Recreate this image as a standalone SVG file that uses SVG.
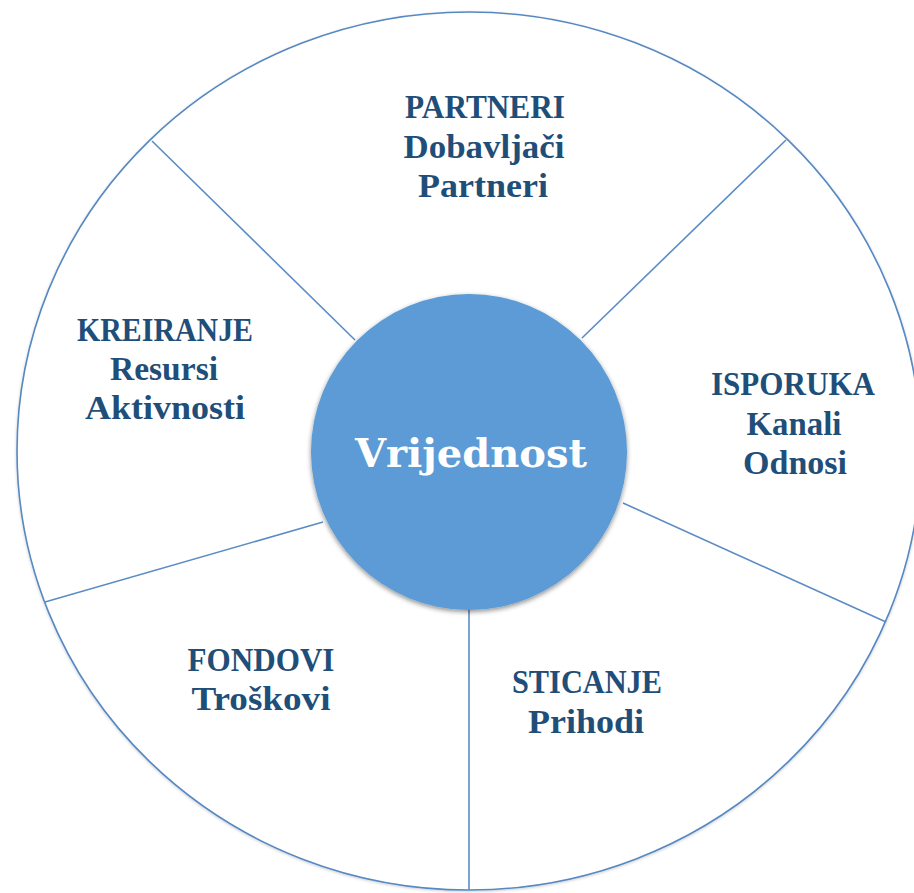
<svg xmlns="http://www.w3.org/2000/svg" width="914" height="893" viewBox="0 0 914 893">
  <style>
    .rim { fill: #ffffff; stroke: #5688c2; stroke-width: 1.6; }
    .spoke { stroke: #5b8cc4; stroke-width: 1.6; fill: none; }
    .lbl { font-family: "Liberation Serif", "DejaVu Serif", serif; font-weight: bold; font-size: 33px; fill: #1f4e79; text-anchor: middle; }
    .hub { fill: #5b9bd5; }
    .hubtxt { font-family: "DejaVu Serif", "Liberation Serif", serif; font-weight: bold; font-size: 40px; fill: #ffffff; text-anchor: middle; }
  </style>
  <defs>
    <filter id="soft" x="-10%" y="-10%" width="120%" height="120%">
      <feGaussianBlur in="SourceAlpha" stdDeviation="2.5"/>
      <feOffset dx="0" dy="1.5"/>
      <feComponentTransfer><feFuncA type="linear" slope="0.45"/></feComponentTransfer>
      <feMerge><feMergeNode/><feMergeNode in="SourceGraphic"/></feMerge>
    </filter>
    <filter id="rimshade" x="-5%" y="-5%" width="110%" height="110%">
      <feGaussianBlur in="SourceAlpha" stdDeviation="1.5"/>
      <feOffset dx="0" dy="1"/>
      <feComponentTransfer><feFuncA type="linear" slope="0.2"/></feComponentTransfer>
      <feMerge><feMergeNode/><feMergeNode in="SourceGraphic"/></feMerge>
    </filter>
  </defs>

  <rect width="914" height="893" fill="#ffffff"/>

  <!-- outer ring -->
  <g id="ring">
    <ellipse class="rim" cx="469" cy="451" rx="452" ry="439" filter="url(#rimshade)"/>
  </g>

  <!-- spokes dividing the ring into segments -->
  <g id="connectors">
    <line class="spoke" x1="152" y1="141" x2="355" y2="340"/>
    <line class="spoke" x1="786" y1="140" x2="582" y2="338"/>
    <line class="spoke" x1="886" y1="622" x2="623" y2="503"/>
    <line class="spoke" x1="469" y1="890" x2="469" y2="608"/>
    <line class="spoke" x1="45" y1="602" x2="323" y2="522"/>
  </g>

  <!-- central value node -->
  <g id="vrijednost">
    <circle class="hub" cx="469" cy="452" r="158" filter="url(#soft)"/>
    <text class="hubtxt" x="471" y="467" textLength="232" lengthAdjust="spacingAndGlyphs">Vrijednost</text>
  </g>

  <g id="partneri">
    <text class="lbl" x="485" y="118" textLength="160" lengthAdjust="spacingAndGlyphs">PARTNERI</text>
    <text class="lbl" x="484" y="158" textLength="161" lengthAdjust="spacingAndGlyphs">Dobavljači</text>
    <text class="lbl" x="483" y="197" textLength="130" lengthAdjust="spacingAndGlyphs">Partneri</text>
  </g>

  <g id="kreiranje">
    <text class="lbl" x="165" y="341" textLength="176" lengthAdjust="spacingAndGlyphs">KREIRANJE</text>
    <text class="lbl" x="164" y="380" textLength="108" lengthAdjust="spacingAndGlyphs">Resursi</text>
    <text class="lbl" x="165" y="419" textLength="160" lengthAdjust="spacingAndGlyphs">Aktivnosti</text>
  </g>

  <g id="isporuka">
    <text class="lbl" x="793" y="395" textLength="164" lengthAdjust="spacingAndGlyphs">ISPORUKA</text>
    <text class="lbl" x="794" y="435" textLength="95" lengthAdjust="spacingAndGlyphs">Kanali</text>
    <text class="lbl" x="795" y="474" textLength="104" lengthAdjust="spacingAndGlyphs">Odnosi</text>
  </g>

  <g id="fondovi">
    <text class="lbl" x="261" y="671" textLength="147" lengthAdjust="spacingAndGlyphs">FONDOVI</text>
    <text class="lbl" x="261" y="710" textLength="139" lengthAdjust="spacingAndGlyphs">Troškovi</text>
  </g>

  <g id="sticanje">
    <text class="lbl" x="587" y="693" textLength="150" lengthAdjust="spacingAndGlyphs">STICANJE</text>
    <text class="lbl" x="586" y="733" textLength="116" lengthAdjust="spacingAndGlyphs">Prihodi</text>
  </g>
</svg>
